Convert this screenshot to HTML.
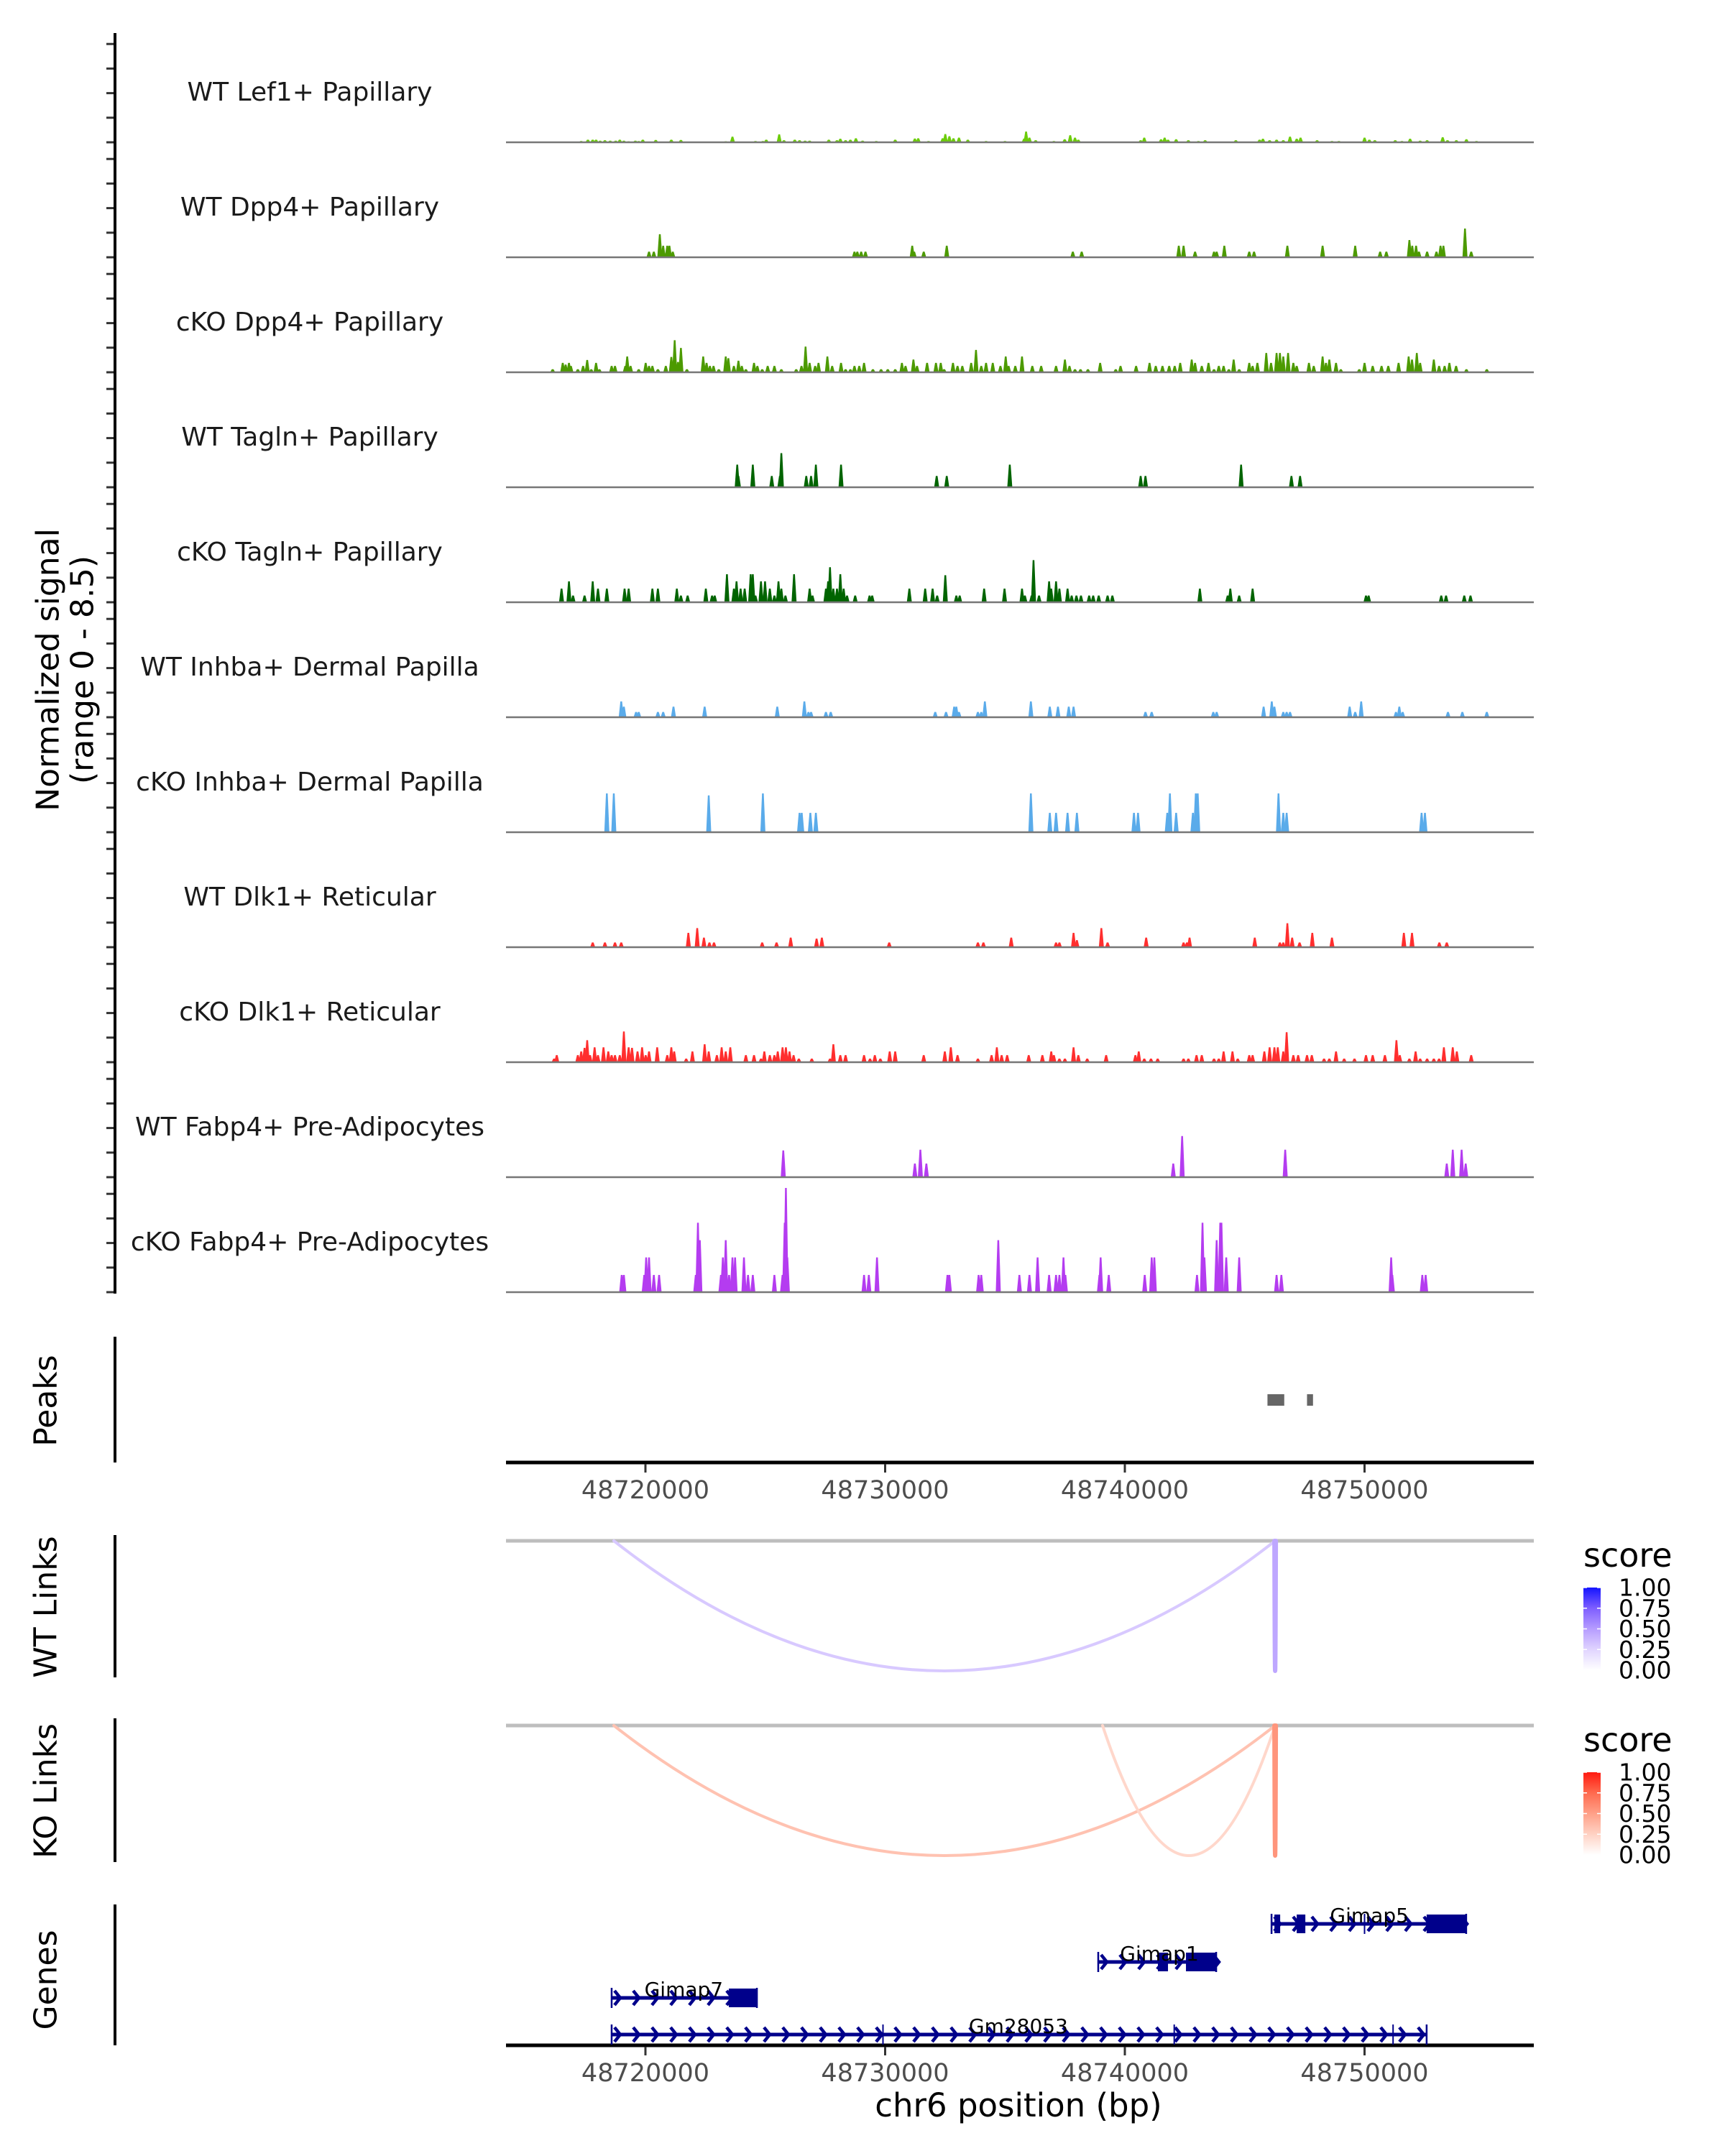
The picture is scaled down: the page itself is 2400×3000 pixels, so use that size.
<!DOCTYPE html>
<html><head><meta charset="utf-8"><style>
html,body{margin:0;padding:0;background:#fff;}
svg{display:block;font-family:"DejaVu Sans","Liberation Sans",sans-serif;}
</style></head><body>
<svg id="fig" xmlns="http://www.w3.org/2000/svg" width="2400" height="3000" viewBox="0 0 2400 3000">
<rect x="0" y="0" width="2400" height="3000" fill="#fff"/>
<g id="tracks"></g>
<g id="axes"></g>
<g id="links"></g>
<g id="genes"></g>
<g id="legends"></g>
</svg>
<script>
// ---------- data (kb offsets from 48,700,000; heights in normalized signal units) ----------
const trackNames = ["WT Lef1+ Papillary","WT Dpp4+ Papillary","cKO Dpp4+ Papillary","WT Tagln+ Papillary","cKO Tagln+ Papillary","WT Inhba+ Dermal Papilla","cKO Inhba+ Dermal Papilla","WT Dlk1+ Reticular","cKO Dlk1+ Reticular","WT Fabp4+ Pre-Adipocytes","cKO Fabp4+ Pre-Adipocytes"];
const trackColors = ["#6ccc0a","#4c9a00","#4c9a00","#006400","#006400","#5aabea","#5aabea","#ff2e2e","#ff2e2e","#b43cf0","#b43cf0"];
const sigLef1WT = [[17.32,.10],[17.60,.21],[17.80,.21],[17.94,.21],[18.11,.13],[18.31,.17],[18.53,.13],[18.76,.13],[18.93,.21],[19.10,.13],[19.30,.08],[19.58,.13],[19.72,.10],[19.89,.21],[20.43,.19],[21.08,.21],[21.48,.19],[23.35,.08],[23.63,.46],[24.59,.10],[24.90,.10],[25.04,.21],[25.58,.65],[25.78,.17],[26.23,.21],[26.43,.17],[26.66,.13],[26.85,.13],[27.65,.21],[27.99,.17],[28.13,.29],[28.35,.17],[28.55,.21],[28.78,.33],[29.06,.13],[29.63,.10],[30.42,.21],[31.24,.31],[31.38,.33],[31.81,.10],[32.40,.33],[32.51,.67],[32.68,.50],[32.85,.33],[33.08,.38],[33.45,.21],[34.21,.10],[35.00,.10],[35.80,.31],[35.88,.88],[36.02,.38],[36.28,.17],[37.04,.10],[37.49,.25],[37.72,.58],[37.92,.38],[38.06,.21],[40.66,.17],[40.81,.38],[41.51,.25],[41.66,.38],[41.80,.21],[42.14,.25],[42.65,.17],[43.07,.10],[43.35,.17],[44.63,.17],[45.62,.21],[45.76,.29],[46.04,.17],[46.33,.21],[46.61,.17],[46.89,.46],[47.17,.29],[47.33,.38],[48.02,.17],[48.64,.10],[48.93,.10],[50.00,.38],[50.20,.21],[50.43,.17],[51.28,.17],[51.56,.10],[51.90,.29],[52.32,.13],[52.61,.17],[53.26,.42],[53.46,.17],[53.83,.17],[54.25,.25],[54.67,.10]];
const sigDpp4WT = [[20.15,.46],[20.35,.46],[20.60,1.88],[20.74,.94],[20.91,.94],[21.00,.94],[21.14,.46],[28.72,.46],[28.84,.46],[29.00,.46],[29.18,.46],[31.13,.94],[31.21,.46],[31.61,.46],[32.57,.94],[37.83,.46],[38.20,.46],[42.25,.94],[42.45,.94],[42.93,.46],[43.72,.46],[43.83,.46],[44.15,.94],[45.19,.46],[45.39,.46],[46.78,.94],[48.25,.94],[49.61,.94],[50.65,.46],[50.91,.46],[51.87,1.4],[51.99,.94],[52.15,.94],[52.27,.46],[52.61,.46],[53.00,.46],[53.17,.94],[53.29,.94],[54.19,2.34],[54.45,.46]];
const sigDpp4KO = [[16.13,.25],[16.55,.77],[16.67,.63],[16.81,.77],[16.89,.52],[17.18,.25],[17.40,.52],[17.57,1.0],[17.74,.25],[17.94,.77],[18.08,.25],[18.59,.52],[18.73,.52],[19.16,.52],[19.24,1.29],[19.38,.52],[19.72,.25],[20.01,.77],[20.15,.52],[20.29,.52],[20.52,.25],[20.85,.52],[21.08,1.25],[21.22,2.61],[21.36,.84],[21.48,1.98],[21.73,.25],[22.41,1.29],[22.55,.77],[22.69,.52],[22.84,.52],[23.06,.25],[23.35,1.29],[23.46,1.15],[23.69,.52],[23.88,.94],[24.02,.52],[24.19,.25],[24.53,.77],[24.67,.52],[24.87,.25],[25.10,.52],[25.38,.52],[25.67,.25],[26.29,.25],[26.51,.52],[26.68,2.09],[26.85,.77],[27.08,.52],[27.22,.77],[27.59,1.29],[27.79,.52],[28.16,.77],[28.35,.25],[28.55,.25],[28.72,.52],[28.92,.52],[29.12,.77],[29.49,.25],[29.83,.25],[30.11,.25],[30.42,.25],[30.70,.77],[30.85,.52],[31.18,1.04],[31.33,.52],[31.75,.77],[32.12,.77],[32.32,.77],[32.46,.25],[32.83,.77],[33.02,.52],[33.22,.52],[33.59,.77],[33.79,1.82],[34.01,.52],[34.21,.77],[34.49,.77],[34.81,.52],[35.03,1.29],[35.15,.52],[35.43,.52],[35.71,1.29],[36.14,.52],[36.51,.52],[37.13,.52],[37.50,1.04],[37.69,.52],[37.92,.25],[38.15,.25],[38.46,.25],[38.97,.77],[39.62,.25],[39.82,.52],[40.47,.52],[41.03,.77],[41.29,.52],[41.57,.52],[41.85,.52],[42.08,.52],[42.31,.77],[42.79,1.04],[42.93,.77],[43.21,.52],[43.49,.77],[43.72,.25],[43.92,.52],[44.12,.52],[44.34,.25],[44.54,1.04],[44.77,.25],[45.19,.77],[45.33,.52],[45.53,.77],[45.90,1.57],[46.10,.77],[46.33,1.57],[46.47,1.57],[46.61,1.29],[46.81,1.57],[47.03,.77],[47.17,.52],[47.68,.77],[47.88,.52],[48.25,1.29],[48.39,.77],[48.53,1.04],[48.81,.77],[49.01,.25],[49.78,.25],[50.00,.77],[50.34,.52],[50.71,.52],[50.99,.52],[51.42,.77],[51.84,1.29],[51.98,1.04],[52.18,1.57],[52.32,.77],[52.89,1.04],[53.11,.52],[53.34,.52],[53.54,.77],[53.82,.52],[54.25,.25],[55.10,.25]];
const sigTaglnWT = [[23.83,1.84],[23.88,.92],[24.48,1.84],[25.27,.92],[25.61,.92],[25.67,2.78],[26.71,.92],[26.91,.92],[27.11,1.84],[28.16,1.84],[32.15,.92],[32.57,.92],[35.20,1.84],[40.66,.92],[40.86,.92],[44.85,1.84],[46.95,.92],[47.31,.92]];
const sigTaglnKO = [[16.50,1.11],[16.81,1.70],[16.98,.55],[17.46,.55],[17.80,1.70],[18.02,1.11],[18.39,1.11],[19.13,1.11],[19.30,1.11],[20.29,1.11],[20.52,1.11],[21.31,1.11],[21.48,.55],[21.76,.55],[22.52,1.11],[22.78,.55],[22.89,.55],[23.40,2.28],[23.69,1.11],[23.80,1.70],[23.97,1.11],[24.14,1.11],[24.39,2.28],[24.48,2.28],[24.59,.55],[24.82,1.70],[24.99,1.70],[25.19,1.11],[25.38,.55],[25.55,1.70],[25.67,1.11],[25.84,.55],[26.20,2.28],[26.85,1.11],[26.97,.55],[27.53,1.11],[27.62,1.70],[27.70,2.85],[27.84,1.11],[27.99,1.11],[28.13,2.28],[28.27,1.11],[28.41,.55],[28.75,.55],[29.35,.55],[29.46,.55],[31.01,1.11],[31.67,1.11],[31.98,1.11],[32.17,.55],[32.51,2.2],[32.97,.55],[33.11,.55],[34.13,1.11],[34.98,1.11],[35.71,1.11],[35.83,.55],[36.11,.55],[36.19,3.43],[36.42,.55],[36.84,1.70],[36.93,1.11],[37.13,1.70],[37.27,1.11],[37.61,1.11],[37.78,.55],[37.98,.55],[38.17,.55],[38.51,.55],[38.68,.55],[38.91,.55],[39.28,.55],[39.48,.55],[43.13,1.11],[44.29,.55],[44.40,1.11],[44.77,.55],[45.33,1.11],[50.06,.55],[50.17,.55],[53.20,.55],[53.40,.55],[54.16,.55],[54.42,.55]];
const sigInhbaWT = [[18.99,1.29],[19.10,.86],[19.61,.43],[19.72,.43],[20.52,.43],[20.74,.43],[21.17,.86],[22.47,.86],[25.50,.86],[26.63,1.29],[26.80,.43],[26.91,.43],[27.53,.43],[27.73,.43],[32.09,.43],[32.54,.43],[32.88,.86],[32.97,.86],[33.08,.43],[33.87,.43],[34.01,.43],[34.16,1.29],[36.08,1.29],[36.87,.86],[37.21,.86],[37.66,.86],[37.86,.86],[40.86,.43],[41.12,.43],[43.69,.43],[43.83,.43],[45.79,.86],[46.13,1.29],[46.24,.86],[46.61,.43],[46.75,.43],[46.89,.43],[49.38,.86],[49.61,.43],[49.86,1.29],[51.31,.43],[51.45,.86],[51.59,.43],[53.48,.43],[54.08,.43],[55.10,.43]];
const sigInhbaKO = [[18.39,3.16],[18.68,3.16],[22.64,3.0],[24.90,3.16],[26.43,1.58],[26.52,1.58],[26.88,1.58],[27.11,1.58],[36.08,3.16],[36.87,1.58],[37.13,1.58],[37.61,1.58],[38.00,1.58],[40.38,1.58],[40.55,1.58],[41.77,1.58],[41.88,3.16],[42.14,1.58],[42.84,1.58],[42.96,3.16],[43.04,3.16],[46.41,3.16],[46.61,1.58],[46.75,1.58],[52.38,1.58],[52.52,1.58]];
const sigDlk1WT = [[17.80,.39],[18.31,.39],[18.73,.39],[18.99,.39],[21.79,1.17],[22.16,1.56],[22.44,.78],[22.67,.39],[22.86,.39],[24.87,.39],[25.47,.39],[26.06,.78],[27.14,.70],[27.36,.78],[30.17,.39],[33.87,.39],[34.10,.39],[35.26,.78],[37.13,.39],[37.27,.39],[37.86,1.17],[38.00,.58],[39.02,1.56],[39.28,.39],[40.89,.78],[42.45,.39],[42.59,.39],[42.70,.78],[45.42,.78],[46.47,.39],[46.61,.39],[46.78,1.95],[46.98,.78],[47.29,.39],[47.82,1.17],[48.64,.78],[51.64,1.17],[51.98,1.17],[53.12,.39],[53.43,.39]];
const sigDlk1KO = [[16.19,.29],[16.30,.58],[17.18,.58],[17.32,.88],[17.46,1.17],[17.57,1.79],[17.69,.58],[17.88,1.21],[18.02,.58],[18.25,1.21],[18.45,.88],[18.59,.58],[18.73,.58],[18.93,.58],[19.10,2.5],[19.30,1.21],[19.44,1.17],[19.67,.88],[19.86,1.21],[20.01,.58],[20.15,.88],[20.49,1.21],[20.91,.58],[21.08,1.21],[21.20,.88],[21.70,.29],[21.96,.88],[22.47,1.46],[22.64,.88],[22.98,.58],[23.18,1.21],[23.35,.88],[23.54,1.21],[24.19,.58],[24.53,.58],[24.82,.29],[24.96,.88],[25.19,.58],[25.38,.58],[25.52,.88],[25.72,1.21],[25.86,1.21],[26.01,.88],[26.18,.58],[26.40,.29],[26.94,.29],[27.70,.29],[27.84,1.46],[28.13,.58],[28.35,.58],[29.12,.58],[29.37,.29],[29.57,.58],[29.80,.29],[30.19,.88],[30.42,.88],[31.61,.58],[32.49,.88],[32.74,1.21],[33.02,.58],[33.87,.29],[34.44,.58],[34.66,1.21],[34.86,.58],[35.09,.58],[35.99,.58],[36.56,.58],[36.93,.88],[37.04,.58],[37.27,.29],[37.50,.29],[37.86,1.21],[38.06,.58],[38.43,.29],[39.22,.58],[40.44,.58],[40.58,.88],[40.81,.29],[41.09,.29],[41.37,.29],[42.45,.29],[42.65,.29],[42.99,.58],[43.21,.58],[43.72,.29],[43.92,.29],[44.12,.88],[44.49,.88],[44.71,.29],[45.19,.58],[45.33,.58],[45.82,.88],[46.04,1.21],[46.24,1.21],[46.38,1.21],[46.61,.88],[46.75,2.44],[47.03,.58],[47.23,.58],[47.60,.58],[47.80,.58],[48.31,.29],[48.53,.29],[48.81,.88],[49.15,.29],[49.58,.29],[50.06,.58],[50.34,.58],[50.85,.58],[51.33,1.79],[51.47,.58],[51.87,.29],[52.13,.88],[52.32,.29],[52.61,.29],[52.89,.29],[53.11,.29],[53.31,1.21],[53.68,1.21],[53.85,.88],[54.45,.58]];
const sigFabp4WT = [[25.75,2.18],[31.24,1.11],[31.47,2.24],[31.72,1.11],[42.02,1.11],[42.39,3.35],[46.69,2.24],[53.43,1.11],[53.68,2.24],[54.05,2.24],[54.22,1.11]];
const sigFabp4KO = [[19.01,1.4],[19.10,1.4],[19.95,1.4],[20.03,2.83],[20.15,2.83],[20.35,1.4],[20.57,1.4],[22.10,1.4],[22.19,5.65],[22.27,4.23],[23.15,1.4],[23.23,2.83],[23.35,4.23],[23.49,1.4],[23.63,2.83],[23.74,2.83],[24.11,2.83],[24.28,1.4],[24.48,1.4],[25.38,1.4],[25.72,1.4],[25.81,5.65],[25.86,8.48],[25.92,2.83],[29.12,1.4],[29.32,1.4],[29.66,2.83],[32.60,1.4],[32.68,1.4],[33.90,1.4],[34.01,1.4],[34.72,4.23],[35.60,1.4],[36.02,1.4],[36.36,2.83],[36.84,1.4],[37.13,1.4],[37.27,1.4],[37.44,2.83],[37.52,1.4],[38.94,1.4],[38.99,2.83],[39.33,1.4],[40.83,1.4],[41.12,2.83],[41.23,2.83],[43.01,1.4],[43.24,5.65],[43.32,2.83],[43.83,4.23],[43.98,5.65],[44.03,5.65],[44.23,2.83],[44.77,2.83],[46.33,1.4],[46.53,1.4],[51.11,2.83],[51.16,1.4],[52.41,1.4],[52.55,1.4]];
const signals = [sigLef1WT,sigDpp4WT,sigDpp4KO,sigTaglnWT,sigTaglnKO,sigInhbaWT,sigInhbaKO,sigDlk1WT,sigDlk1KO,sigFabp4WT,sigFabp4KO];
const peakRegions = [[45.95,46.65],[47.60,47.85]];
const xTicks = [48720000,48730000,48740000,48750000];
const yTickValues = [0,2,4,6,8];
const wtLinks = [[18.68,46.27,0.30],[46.24,46.30,0.45]];
const koLinks = [[18.68,46.27,0.33],[39.07,46.27,0.22],[46.24,46.30,0.55]];
const legendTicks = ["1.00","0.75","0.50","0.25","0.00"];
const geneNames = ["Gimap5","Gimap1","Gimap7","Gm28053"];
const geneSpans = [[46.12,54.24],[38.89,43.81],[18.59,24.65],[18.59,52.59]];
const geneExons = [[[46.24,46.48],[47.17,47.53],[52.59,54.24]],[[41.38,41.80],[42.55,43.81]],[[23.48,24.65]],[]];
const geneMarks = [[[50.0]],[[]],[[]],[[29.91,42.06,51.19]]];
const geneLabelPos = [50.2,41.44,21.6,35.56];

// ---------- scales ----------
const NS="http://www.w3.org/2000/svg";
const X0=704, X1=2134;
function xs(kb){return 898+(kb-20)*33.35;}
function xbp(bp){return xs((bp-48700000)/1000);}
const UNIT=17.1;
function base(i){return 198+160*i;}
function mk(tag,attrs,parent){const e=document.createElementNS(NS,tag);for(const k in attrs)e.setAttribute(k,attrs[k]);parent.appendChild(e);return e;}
const gT=document.getElementById('tracks'),gA=document.getElementById('axes'),gL=document.getElementById('links'),gG=document.getElementById('genes'),gLe=document.getElementById('legends');

signals.forEach((arr,i)=>{
  const b=base(i);
  const lab=mk('text',{x:431,y:b-58,'text-anchor':'middle','font-size':36,fill:'#1a1a1a'},gT);
  lab.textContent=trackNames[i];
  
  
  const g=mk('g',{fill:trackColors[i]},gT);
  
  
  arr.forEach(d=>{
    const x=xs(d[0]),h=d[1]*UNIT;
    const p=mk('polygon',{points:`${x-3.5},${b} ${x-1.2},${b-h} ${x+1.2},${b-h} ${x+3.5},${b}`},g);
    
    
  });
  const bl=mk('line',{x1:X0,x2:X1,y1:b,y2:b,stroke:'#777','stroke-width':2.5},gT);
  
  
  yTickValues.forEach(v=>{
    const t=mk('line',{x1:148,x2:160,y1:b-v*UNIT,y2:b-v*UNIT,stroke:'#333','stroke-width':3},gA);
    
    
  });
});
[[46,1800],[1860,2035],[2136,2334],[2391,2591],[2650,2846]].forEach(s=>{
  const l=mk('line',{x1:160,x2:160,y1:s[0],y2:s[1],stroke:'#000','stroke-width':4},gA);
  
  
});
function rotText(txt,x,y,name){
  const t=mk('text',{x:x,y:y,transform:`rotate(-90 ${x} ${y})`,'text-anchor':'middle','dominant-baseline':'central','font-size':44,fill:'#000'},gA);
  t.textContent=txt;
  
  
}
rotText('Normalized signal',67,932,'y-axis-title');
rotText('(range 0 - 8.5)',115,932,'y-axis-subtitle');
rotText('Peaks',64,1949,'peaks-label');
rotText('WT Links',64,2236,'wt-links-label');
rotText('KO Links',64,2492,'ko-links-label');
rotText('Genes',64,2755,'genes-label');

peakRegions.forEach(p=>{
  const r=mk('rect',{x:xs(p[0]),y:1940,width:xs(p[1])-xs(p[0]),height:16,fill:'#666'},gA);
  
  
});
function xAxis(y,name){
  const l=mk('line',{x1:X0,x2:X1,y1:y,y2:y,stroke:'#000','stroke-width':5},gA);
  
  
  xTicks.forEach(v=>{
    const x=xbp(v);
    const t=mk('line',{x1:x,x2:x,y1:y+2,y2:y+14,stroke:'#333','stroke-width':3},gA);
    
    
    const tl=mk('text',{x:x,y:y+50,'text-anchor':'middle','font-size':35,fill:'#4d4d4d'},gA);
    tl.textContent=String(v);
    
    
  });
}
xAxis(2035,'peaks-x-axis');
xAxis(2846,'genes-x-axis');
const xt=mk('text',{x:1417,y:2945,'text-anchor':'middle','font-size':45,fill:'#000'},gA);
xt.textContent='chr6 position (bp)';



const wtRamp=[[255,255,255],[224,212,255],[182,156,255],[126,94,255],[20,20,255]];
const koRamp=[[255,255,255],[255,210,196],[255,160,136],[255,106,78],[255,26,16]];
function rampColor(r,s){const f=s*4,i=Math.min(3,Math.floor(f)),t=f-i;const c=r[i].map((v,k)=>Math.round(v+(r[i+1][k]-v)*t));return `rgb(${c[0]},${c[1]},${c[2]})`;}
function linkPanel(data,y0,y1,ramp,name){
  const gl=mk('line',{x1:X0,x2:X1,y1:y0,y2:y0,stroke:'#bebebe','stroke-width':5},gL);
  
  
  data.forEach(d=>{
    const a=xs(d[0]),b=xs(d[1]),cy=y0+2*(y1-y0);
    const p=mk('path',{d:`M${a},${y0} Q${(a+b)/2},${cy} ${b},${y0}`,fill:'none',stroke:rampColor(ramp,d[2]),'stroke-width':(b-a)<20?6:4,'stroke-linecap':'round'},gL);
    
    
  });
}
linkPanel(wtLinks,2144,2325,wtRamp,'wt-link');
linkPanel(koLinks,2401,2582,koRamp,'ko-link');

function legend(y0,ramp,id,name){
  const t=mk('text',{x:2203,y:y0,'font-size':46,fill:'#000'},gLe);
  t.textContent='score';
  
  
  const defs=mk('defs',{},gLe);
  const lg=mk('linearGradient',{id:id,x1:0,y1:1,x2:0,y2:0},defs);
  ramp.forEach((c,i)=>mk('stop',{offset:i/4,'stop-color':`rgb(${c[0]},${c[1]},${c[2]})`},lg));
  const top=y0+29,h=115;
  const r=mk('rect',{x:2203,y:top,width:24,height:h,fill:`url(#${id})`},gLe);
  
  
  legendTicks.forEach((s,i)=>{
    const yy=top+i*h/4;
    mk('line',{x1:2203,x2:2208,y1:yy,y2:yy,stroke:'#fff','stroke-width':1.5},gLe);
    mk('line',{x1:2222,x2:2227,y1:yy,y2:yy,stroke:'#fff','stroke-width':1.5},gLe);
    const l=mk('text',{x:2252,y:yy,'dominant-baseline':'central','font-size':33,fill:'#000'},gLe);
    l.textContent=s;
    
    
  });
}
legend(2180,wtRamp,'gw','wt-legend');
legend(2437,koRamp,'gk','ko-legend');

const rowY=[2677,2730,2780,2831];
geneNames.forEach((n,i)=>{
  const y=rowY[i],s=geneSpans[i],g=mk('g',{},gG);
  
  
  const a=xs(s[0]),b=xs(s[1]);
  mk('line',{x1:a,x2:b,y1:y,y2:y,stroke:'#00008b','stroke-width':5},g);
  mk('line',{x1:a,x2:a,y1:y-14,y2:y+14,stroke:'#00008b','stroke-width':2.5},g);
  mk('line',{x1:b,x2:b,y1:y-14,y2:y+14,stroke:'#00008b','stroke-width':2.5},g);
  for(let x=a+4;x<b-4;x+=26){
    mk('polyline',{points:`${x},${y-10} ${x+8},${y} ${x},${y+10}`,fill:'none',stroke:'#00008b','stroke-width':4.5},g);
  }
  geneExons[i].forEach(e=>{
    mk('rect',{x:xs(e[0]),y:y-13,width:xs(e[1])-xs(e[0]),height:26,fill:'#00008b'},g);
  });
  (geneMarks[i][0]||[]).forEach(m=>{const x=xs(m);mk('line',{x1:x,x2:x,y1:y-14,y2:y+14,stroke:'#00008b','stroke-width':2},g);});
  const t=mk('text',{x:xs(geneLabelPos[i]),y:y-2,'text-anchor':'middle','font-size':28,fill:'#000'},g);
  t.textContent=n;
  
  
});
</script>
</body></html>
